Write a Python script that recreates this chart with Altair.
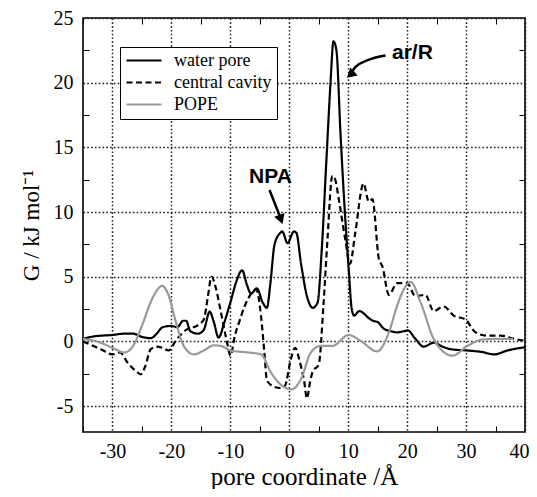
import altair as alt
import pandas as pd

series_names = ["water pore", "central cavity", "POPE"]
series_colors = ["#000000", "#000000", "#999999"]
series_dashes = [[1, 0], [6, 3.5], [1, 0]]

water_x = [-35, -33, -30, -28, -26.5, -25, -23.5, -22.5, -21.5, -20, -19, -18, -17.5, -16.8,
           -15.5, -14.5, -13.5, -12.8, -12, -11, -10, -9, -8, -7.2, -6.5, -5.5, -4.5, -3.8,
           -3.2, -2.5, -1.5, -1.2, -0.3, 0.8, 1.2, 2.0, 3.0, 4.0, 4.8, 5.5, 6.3, 7.0, 7.5, 8.0,
           8.7, 9.5, 10.1, 10.6, 11.0, 11.9, 12.8, 13.5, 14.2, 15.0, 16.0, 17.2, 18.3, 19.5,
           20.1, 21.4, 22.8, 24.5, 26.0, 27.4, 30.2, 32.5, 34.8, 37.0, 40.0]
water_y = [0.2, 0.4, 0.5, 0.6, 0.6, 0.35, 0.25, 0.6, 1.1, 1.2, 1.1, 1.6, 1.6, 0.8,
           0.6, 0.9, 2.3, 1.5, 0.3, 1.5, 3.0, 4.6, 5.5, 4.4, 3.7, 4.1, 3.0, 2.6,
           4.5, 7.5, 8.4, 8.5, 7.6, 8.5, 8.4, 6.0, 3.5, 2.6, 3.0, 7.0, 14.0, 20.0, 23.2, 22.5,
           16.0, 9.5, 5.5, 2.5, 2.0, 2.35, 2.1, 1.8, 1.6, 1.5, 1.0, 0.8, 0.7, 0.8,
           0.85, 0.2, -0.4, -0.1, -0.4, -0.6, -0.7, -0.8, -1.0, -0.7, -0.45]

cavity_x = [-35, -33.5, -32, -30, -28.7, -27.5, -26, -25.2, -24.5, -23.5, -22.5, -21.5, -20.5,
            -19.2, -17.5, -15.7, -14.5, -13.8, -13.2, -12.5, -11.7, -10.5, -10.0, -9.2, -8.5,
            -7.5, -6.6, -5.6, -4.8, -4.2, -3.8, -2.6, -1.5, -0.7, 0.2, 1.0, 1.8, 2.5, 3.0, 3.5,
            4.0, 5.0, 5.8, 6.5, 7.3, 7.8, 8.4, 9.5, 10.3, 11.2, 12.6, 13.5, 14.1, 15.2, 15.8,
            16.9, 18.3, 20.0, 21.4, 23.1, 24.5, 26.2, 27.9, 29.9, 31.6, 33.6, 35.9, 38.2, 40.0]
cavity_y = [0.0, -0.3, -0.6, -1.0, -0.85, -1.6, -2.3, -2.55, -2.0, -0.6, -0.4, -0.5, -0.7,
            0.1, 0.9, 1.2, 1.7, 3.5, 5.0, 4.2, 2.5, -0.2, -1.1, 0.5, 1.5,
            2.8, 3.6, 4.0, 2.0, -1.0, -3.0, -3.5, -3.6, -3.4, -1.5, -0.5, -1.6, -3.0, -4.4, -3.2,
            -2.3, -1.8, 2.8, 8.0, 12.8, 12.5, 11.0, 7.9, 6.0, 8.4, 12.2, 10.8, 11.0, 6.4, 5.8,
            3.6, 4.5, 4.5, 3.5, 3.6, 2.35, 2.7, 2.0, 1.7, 0.7, 0.45, 0.45, 0.2, 0.05]

pope_x = [-35, -32, -30, -28, -26.5, -25.1, -23.3, -22, -21.6, -20.5, -19.3, -17.9, -16.2,
          -14.5, -12.8, -11.6, -9.9, -7.0, -4.8, -3.1, -1.3, 0.4, 2.1, 3.6, 5.3, 7.3, 10.1,
          12.1, 14.9, 16.9, 18.3, 19.4, 20.6, 22.3, 24.5, 25.7, 27.7, 30.2, 32.8, 35.9, 38.0]
pope_y = [0.2, -0.1, -0.5, -0.85, -0.35, 1.1, 3.25, 4.2, 4.3, 3.6, 1.6, -0.35, -1.0,
          -0.7, -0.3, -0.35, -0.7, -0.85, -1.0, -2.4, -3.4, -3.7, -2.8, -0.9, -0.35, -0.35, 0.5,
          0.05, -0.77, 0.7, 2.75, 4.0, 4.6, 3.0, 0.2, -0.6, -1.1, -0.35, 0.15, 0.2, 0.2]

x_ticks = [-35, -30, -25, -20, -15, -10, -5, 0, 5, 10, 15, 20, 25, 30, 35, 40]
y_ticks = [-5, -2.5, 0, 2.5, 5, 7.5, 10, 12.5, 15, 17.5, 20, 22.5, 25]

label_text = ["NPA", "ar/R"]
label_x = [-3.2, 20.9]
label_y = [12.7, 22.3]

arrow_id = ["npa", "npa", "ar", "ar", "ar", "ar"]
arrow_x = [-3.35, -1.45, 16.33, 13.2, 11.2, 10.5]
arrow_y = [11.7, 9.5, 22.1, 21.72, 21.2, 20.7]
head_x = [-1.41, 10.39]
head_y = [9.43, 20.62]
head_angle = [160, 228]

rows = []
for name, xs, ys in zip(series_names, [water_x, cavity_x, pope_x], [water_y, cavity_y, pope_y]):
    for i, (xv, yv) in enumerate(zip(xs, ys)):
        rows.append({"series": name, "x": xv, "y": yv, "order": i})
df = pd.DataFrame(rows)

labels_df = pd.DataFrame({"x": label_x, "y": label_y, "t": label_text})
arrows_df = pd.DataFrame({"id": arrow_id, "x": arrow_x, "y": arrow_y, "o": list(range(len(arrow_x)))})
heads_df = pd.DataFrame({"x": head_x, "y": head_y, "a": head_angle})

serif = "Liberation Serif"
x_scale = alt.Scale(domain=[-35, 40], nice=False, zero=False)
y_scale = alt.Scale(domain=[-7, 25], nice=False, zero=False)

minor10 = {"condition": {"test": "datum.value % 10 === 0", "value": 0}, "value": 1}
major10 = {"condition": {"test": "datum.value % 10 === 0", "value": 1}, "value": 0}
minor5 = {"condition": {"test": "datum.value % 5 === 0", "value": 0}, "value": 1}
major5 = {"condition": {"test": "datum.value % 5 === 0", "value": 1}, "value": 0}

grid_color = "#222222"
grid_dash = [1.6, 2.2]

x_axis_bottom = alt.Axis(
    values=x_ticks, title="pore coordinate /Å", titleFont=serif, titleFontSize=25,
    titleFontWeight="normal", titleColor="black", titlePadding=3,
    labelExpr="datum.value % 10 === 0 ? '' + datum.value : ''",
    labelFont=serif, labelFontSize=20, labelColor="black", labelPadding=15,
    labelFlush=True, labelFlushOffset=4,
    tickSize={"expr": "-6"}, tickColor="black", tickWidth=1, tickOpacity=minor10,
    grid=True, gridDash=grid_dash, gridColor=grid_color, gridWidth=1.5, gridOpacity=major10,
    domain=False,
)
y_axis_left = alt.Axis(
    values=y_ticks, title="G / kJ mol⁻¹", titleFont=serif, titleFontSize=23,
    titleFontWeight="normal", titleColor="black", titlePadding=10,
    labelExpr="datum.value % 5 === 0 ? '' + datum.value : ''",
    labelFont=serif, labelFontSize=20, labelColor="black", labelPadding=16,
    tickSize={"expr": "-6"}, tickColor="black", tickWidth=1, tickOpacity=minor5,
    grid=True, gridDash=grid_dash, gridColor=grid_color, gridWidth=1.5, gridOpacity=major5,
    domain=False,
)
x_axis_top = alt.Axis(
    orient="top", values=x_ticks, title=None, labels=False, grid=False, domain=False,
    tickSize={"expr": "-6"}, tickColor="black", tickWidth=1, tickOpacity=minor10,
)
y_axis_right = alt.Axis(
    orient="right", values=y_ticks, title=None, labels=False, grid=False, domain=False,
    tickSize={"expr": "-6"}, tickColor="black", tickWidth=1, tickOpacity=minor5,
)

legend = alt.Legend(title=None)

lines = alt.Chart(df).mark_line(strokeWidth=2.2, interpolate="monotone").encode(
    x=alt.X("x:Q", scale=x_scale, axis=x_axis_bottom),
    y=alt.Y("y:Q", scale=y_scale, axis=y_axis_left),
    color=alt.Color("series:N", scale=alt.Scale(domain=series_names, range=series_colors), legend=legend),
    strokeDash=alt.StrokeDash("series:N", scale=alt.Scale(domain=series_names, range=series_dashes), legend=legend),
    order="order:Q",
)

frame = alt.Chart(df).mark_line(opacity=0).encode(
    x=alt.X("x:Q", scale=x_scale, axis=x_axis_top),
    y=alt.Y("y:Q", scale=y_scale, axis=y_axis_right),
    detail="series:N",
)

shafts = alt.Chart(arrows_df).mark_line(color="black", strokeWidth=2.5, interpolate="monotone").encode(
    x=alt.X("x:Q", scale=x_scale, axis=None),
    y=alt.Y("y:Q", scale=y_scale, axis=None),
    detail="id:N",
    order="o:Q",
)

heads = alt.Chart(heads_df).mark_point(shape="triangle-up", filled=True, size=120, color="black", opacity=1).encode(
    x=alt.X("x:Q", scale=x_scale, axis=None),
    y=alt.Y("y:Q", scale=y_scale, axis=None),
    angle=alt.Angle("a:Q", scale=None),
)

texts = alt.Chart(labels_df).mark_text(font="Liberation Sans", fontWeight="bold", fontSize=21, color="black").encode(
    x=alt.X("x:Q", scale=x_scale, axis=None),
    y=alt.Y("y:Q", scale=y_scale, axis=None),
    text="t:N",
)

chart = alt.layer(lines, frame, shafts, heads, texts).resolve_axis(
    x="independent", y="independent"
).properties(
    width=442, height=414,
    autosize=alt.AutoSizeParams(type="none"),
    padding={"left": 75, "top": 10, "right": 4, "bottom": 57},
    background="white",
).configure_view(
    stroke="black", strokeWidth=1.6,
).configure_legend(
    orient="none", legendX=37, legendY=29, strokeColor="black", fillColor="white",
    padding=5, labelFont=serif, labelFontSize=18, labelColor="black",
    symbolType="stroke", symbolSize=1225, symbolStrokeWidth=2.2, labelOffset=11,
    rowPadding=3, clipHeight=17,
)

chart.save("out.html", embed_options={"renderer": "svg", "actions": False})
